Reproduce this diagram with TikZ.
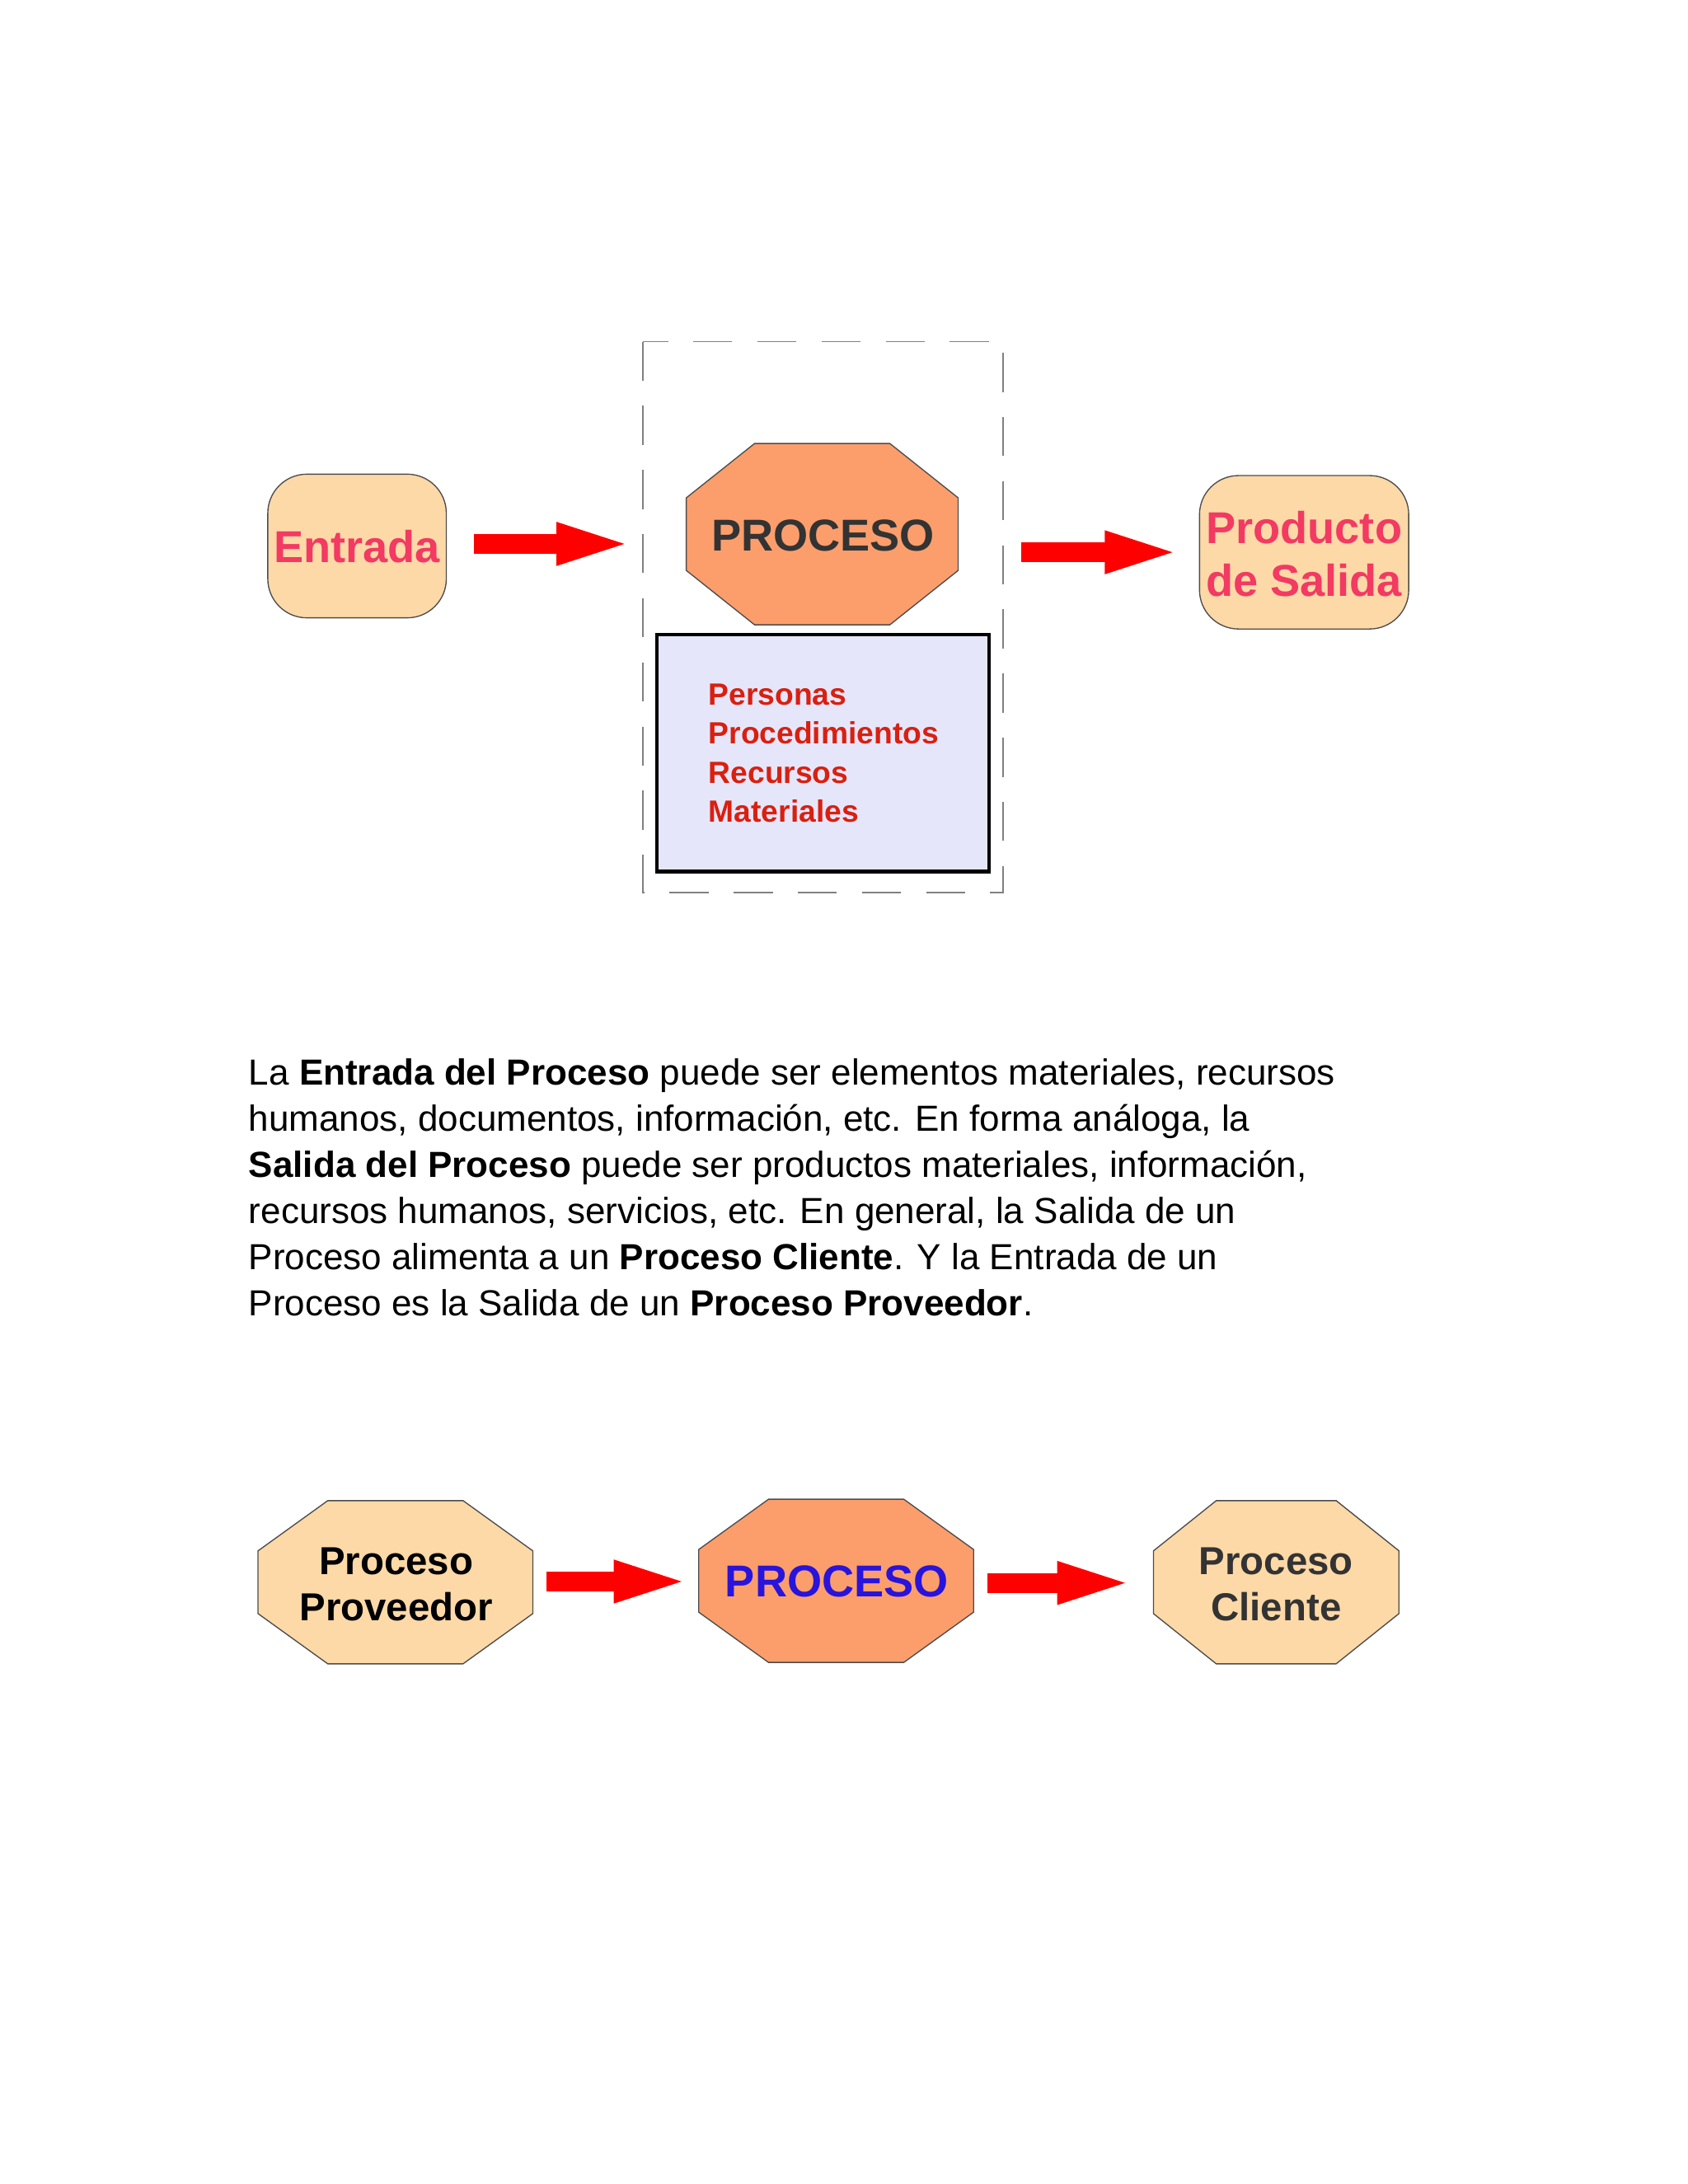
\documentclass[tikz,border=0pt]{standalone}
\usepackage{fontspec}
\setmainfont{Liberation Sans}
\usetikzlibrary{arrows.meta}
\definecolor{peach}{HTML}{FDD9A8}
\definecolor{salmon}{HTML}{FC9E6C}
\definecolor{pinkred}{HTML}{F23A62}
\definecolor{boxred}{HTML}{D92010}
\definecolor{lav}{HTML}{E6E6FA}
\definecolor{dgray}{HTML}{333333}
\tikzset{
 bigarrow/.style={draw=red,line width=7pt,-{Triangle[length=29pt,width=13pt]},red},
 area/.style={inner sep=0pt,minimum width=#1},
 octo/.style={draw=black!70,line width=0.4pt},
}
% \octo{x1}{y1}{x2}{y2}{dx}{dy}{fill}
\newcommand{\myoct}[7]{\fill[#7,octo] (#1+#5,#2) -- (#3-#5,#2) -- (#3,#2+#6) -- (#3,#4-#6) -- (#3-#5,#4) -- (#1+#5,#4) -- (#1,#4-#6) -- (#1,#2+#6) -- cycle;}
\begin{document}
\begin{tikzpicture}[x=0.5pt,y=-0.5pt]
\useasboundingbox[fill=white] (0,0) rectangle (1210,1566);
% top diagram
\draw[gray,dash pattern=on 14pt off 9pt,line width=0.5pt] (461,245) rectangle (719,640);
\fill[peach,draw=black!70,rounded corners=14pt] (192,340) rectangle (320,443);
\node[font=\bfseries\fontsize{16}{19}\selectfont,text=pinkred] (ent) at (256,392) {Entrada};
\coordinate (entE) at (320,390);
\myoct{492}{318}{687}{448}{49}{39}{salmon}
\node[font=\bfseries\fontsize{16}{19}\selectfont,text=dgray] (proc) at (590,384) {PROCESO};
\coordinate (procW) at (457,390);
\coordinate (procE) at (732,396);
\fill[lav,draw=black,line width=1.3pt] (471,455) rectangle (709,625);
\node[anchor=west,align=left,font=\bfseries\fontsize{11}{14}\selectfont,text=boxred] (res) at (501,540) {Personas\\Procedimientos\\Recursos\\Materiales};
\fill[peach,draw=black!70,rounded corners=14pt] (860,341) rectangle (1010,451);
\node[align=center,font=\bfseries\fontsize{16}{19}\selectfont,text=pinkred] (sal) at (935,397) {Producto\\de Salida};
\coordinate (salW) at (850,396);
\draw[bigarrow] (340,390) -- (procW);
\draw[bigarrow] (procE) -- (salW);
% paragraph
\node[anchor=north west,align=left,inner sep=0pt,font=\fontsize{13}{16.5}\selectfont] (txt) at (178,759) {La \textbf{Entrada del Proceso} puede ser elementos materiales, recursos\\humanos, documentos, información, etc. En forma análoga, la\\\textbf{Salida del Proceso} puede ser productos materiales, información,\\recursos humanos, servicios, etc. En general, la Salida de un\\Proceso alimenta a un \textbf{Proceso Cliente}. Y la Entrada de un\\Proceso es la Salida de un \textbf{Proceso Proveedor}.};
% bottom
\myoct{185}{1076}{382}{1193}{50}{36}{peach}
\node[align=center,font=\bfseries\fontsize{14}{16.5}\selectfont] (prov) at (284,1136) {Proceso\\Proveedor};
\myoct{501}{1075}{698}{1192}{50}{36}{salmon}
\node[font=\bfseries\fontsize{16}{19}\selectfont,text={rgb,255:red,40;green,20;blue,220}] (p2) at (600,1134) {PROCESO};
\myoct{827}{1076}{1003}{1193}{45}{36}{peach}
\node[align=center,font=\bfseries\fontsize{14}{16.5}\selectfont,text=dgray] (cli) at (915,1136) {Proceso\\Cliente};
\coordinate (a1s) at (392,1134); \coordinate (a1e) at (498,1134);
\coordinate (a2s) at (708,1135); \coordinate (a2e) at (816,1135);
\draw[bigarrow] (a1s) -- (a1e);
\draw[bigarrow] (a2s) -- (a2e);
\end{tikzpicture}
\end{document}
